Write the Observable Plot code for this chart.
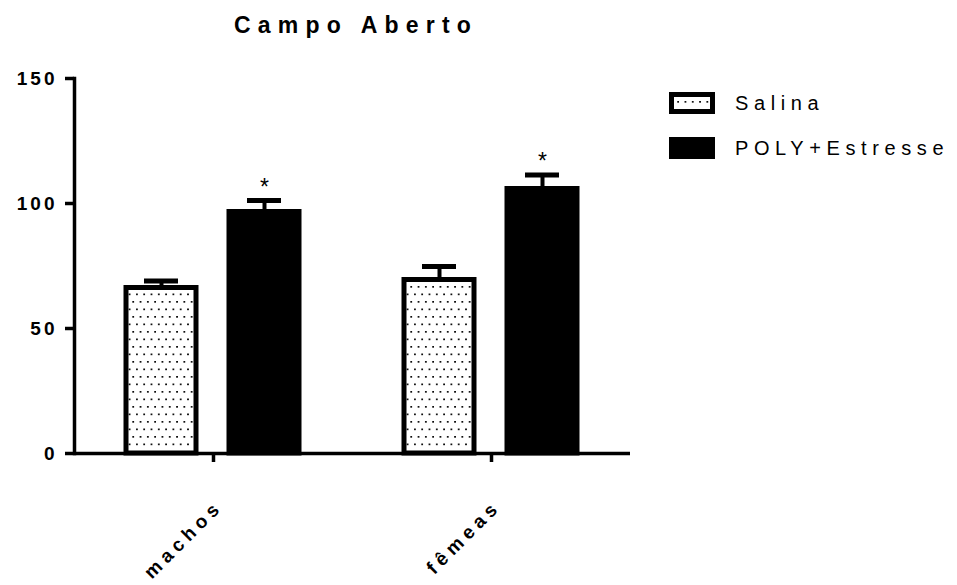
<!DOCTYPE html>
<html>
<head>
<meta charset="utf-8">
<script src="https://cdn.jsdelivr.net/npm/d3@7"></script>
<script src="https://cdn.jsdelivr.net/npm/@observablehq/plot@0.6"></script>
<style>
  body { margin: 0; background: #fff; font-family: "Liberation Sans", Arial, sans-serif; }
  #wrap { position: relative; width: 957px; height: 585px; }
  #title { position: absolute; left: 0; top: 14px; width: 712px; text-align: center;
           font-size: 23px; font-weight: bold; letter-spacing: 7.2px; line-height: 23px; color: #000; }
  #legend { position: absolute; left: 669px; top: 92px; }
  .lg { display: flex; align-items: center; height: 22px; margin-bottom: 23px; }
  .lg span { margin-left: 20px; font-size: 20px; letter-spacing: 5.6px; color: #000; }
  svg text { font-family: "Liberation Sans", Arial, sans-serif; }
  g[aria-label="y-axis tick label"] text { letter-spacing: 3px; }
  g[aria-label="fx-axis tick label"] text { letter-spacing: 5px; }
</style>
</head>
<body>
<div id="wrap">
  <div id="chart"></div>
  <div id="title">Campo Aberto</div>
  <div id="legend"></div>
</div>
<script>
// ---- data ----
const groups = ["machos", "fêmeas"];
const series = ["Salina", "POLY+Estresse"];
const salinaMean = [66.2, 69.4];
const salinaSem  = [2.8, 5.4];
const polyMean   = [96.6, 105.8];
const polySem    = [4.6, 5.6];
const polyMarks  = ["*", "*"];
const yTicks = [0, 50, 100, 150];
const title = "Campo Aberto";

const rows = [];
groups.forEach((g, i) => {
  rows.push({group: g, series: series[0], mean: salinaMean[i], sem: salinaSem[i], mark: ""});
  rows.push({group: g, series: series[1], mean: polyMean[i], sem: polySem[i], mark: polyMarks[i]});
});

const plot = Plot.plot({
  width: 957,
  height: 585,
  marginLeft: 74,
  marginRight: 327,
  marginTop: 78,
  marginBottom: 132,
  fx: {domain: groups, paddingInner: 0, paddingOuter: 0, label: null},
  x: {domain: series, paddingInner: 0.32, paddingOuter: 0.5, axis: null},
  y: {domain: [0, 150], label: null},
  color: {domain: series, range: ["url(#dots)", "#000"]},
  marks: [
    Plot.ruleX(rows, {fx: "group", x: "series", y1: "mean", y2: d => d.mean + d.sem, stroke: "#000", strokeWidth: 4}),
    Plot.tickY(rows, {fx: "group", x: "series", y: d => d.mean + d.sem, stroke: "#000", strokeWidth: 5, insetLeft: 18, insetRight: 18}),
    Plot.barY(rows, {fx: "group", x: "series", y: "mean", fill: "series", stroke: "#000", strokeWidth: 5}),
    Plot.text(rows, {fx: "group", x: "series", y: d => d.mean + d.sem, text: "mark", dy: -13, fontSize: 23, fill: "#000"}),
    Plot.ruleY([0], {stroke: "#000", strokeWidth: 3.5}),
    Plot.frame({anchor: "left", facetAnchor: "left", stroke: "#000", strokeWidth: 3.5}),
    Plot.axisY({ticks: yTicks, tickSize: 9, tickPadding: 8, strokeWidth: 3.5, fontSize: 19, fontWeight: "bold", fill: "#000", label: null}),
    Plot.axisFx({anchor: "bottom", tickSize: 9, strokeWidth: 3.5, fill: "none", label: null}),
    Plot.axisFx({anchor: "bottom", tickSize: 0, tickPadding: 50, tickRotate: -45, fontSize: 19, fontWeight: "bold", fill: "#000", label: null, dx: 6})
  ]
});

// dotted pattern for the Salina bars
const svg = d3.select(plot);
const defs = svg.insert("defs", ":first-child");
const pat = defs.append("pattern").attr("id", "dots").attr("patternUnits", "userSpaceOnUse")
  .attr("width", 7.3).attr("height", 15);
pat.append("rect").attr("width", 7.3).attr("height", 15).attr("fill", "#fff");
pat.append("rect").attr("x", 1).attr("y", 1).attr("width", 1.7).attr("height", 1.7).attr("fill", "#000");
pat.append("rect").attr("x", 4.65).attr("y", 8.5).attr("width", 1.7).attr("height", 1.7).attr("fill", "#000");

document.getElementById("chart").appendChild(plot);
document.getElementById("title").textContent = title;

// legend
const legend = d3.select("#legend");
series.forEach((s, i) => {
  const row = legend.append("div").attr("class", "lg");
  const sw = row.append("svg").attr("width", 46).attr("height", 22);
  if (i === 0) {
    const dd = sw.append("defs").append("pattern").attr("id", "dotsL").attr("patternUnits", "userSpaceOnUse")
      .attr("width", 7.3).attr("height", 15);
    dd.append("rect").attr("width", 7.3).attr("height", 15).attr("fill", "#fff");
    dd.append("rect").attr("x", 1).attr("y", 9).attr("width", 1.7).attr("height", 1.7).attr("fill", "#000");
    sw.append("rect").attr("x", 2.5).attr("y", 2.5).attr("width", 41).attr("height", 17)
      .attr("fill", "url(#dotsL)").attr("stroke", "#000").attr("stroke-width", 5);
  } else {
    sw.append("rect").attr("width", 46).attr("height", 22).attr("fill", "#000");
  }
  row.append("span").text(s);
});
</script>
</body>
</html>
